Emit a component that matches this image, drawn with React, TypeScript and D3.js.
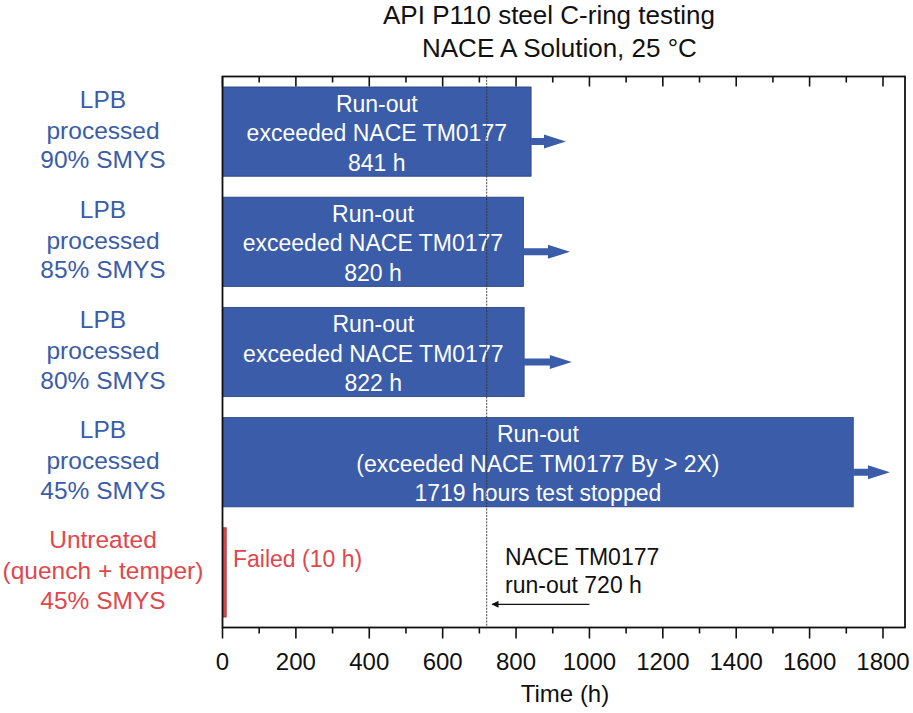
import React from 'react';
import * as d3 from 'd3';

// Rows, top to bottom
const rowLabels: string[][] = [
  ['LPB', 'processed', '90% SMYS'],
  ['LPB', 'processed', '85% SMYS'],
  ['LPB', 'processed', '80% SMYS'],
  ['LPB', 'processed', '45% SMYS'],
  ['Untreated', '(quench + temper)', '45% SMYS'],
];
const hours = [841, 820, 822, 1719, 10];
const barTexts: string[][] = [
  ['Run-out', 'exceeded NACE TM0177', '841 h'],
  ['Run-out', 'exceeded NACE TM0177', '820 h'],
  ['Run-out', 'exceeded NACE TM0177', '822 h'],
  ['Run-out', '(exceeded NACE TM0177 By > 2X)', '1719 hours test stopped'],
  [],
];
const failed = [false, false, false, false, true];
// where the run-out arrows end (h)
const arrowTips = [936, 947, 952, 1819, null];

const naceLimit = 720;
const naceNote = ['NACE TM0177', 'run-out 720 h'];
const naceArrow = [1000, 735];
const failedNote = 'Failed (10 h)';

const xMajor = [0, 200, 400, 600, 800, 1000, 1200, 1400, 1600, 1800];
const xMinor = [100, 300, 500, 700, 900, 1100, 1300, 1500, 1700];
const titleLines = ['API P110 steel C-ring testing', 'NACE A Solution, 25 °C'];

const W = 913;
const H = 713;
const left = 222.5, right = 905, top = 76.5, bottom = 627.5;
const BLUE = '#3b5ca9';
const RED = '#e0474c';
const FONT = '"Liberation Sans", Arial, Helvetica, sans-serif';

const App: React.FC = () => {
  const x = d3.scaleLinear().domain([0, 1860]).range([left, right]);
  const y = d3.scaleBand<number>()
    .domain(d3.range(hours.length))
    .range([top, bottom])
    .paddingInner(0.19)
    .paddingOuter(0.095);
  const bw = y.bandwidth();

  return (
    <svg width={W} height={H} style={{ position: 'absolute', left: 0, top: 0, background: '#fff' }}
      fontFamily={FONT}>
      <defs>
        <marker id="ah" viewBox="0 0 10 10" refX="9" refY="5" markerWidth="9" markerHeight="7"
          markerUnits="userSpaceOnUse" orient="auto">
          <path d="M0,0 L10,5 L0,10 Z" fill="#111" />
        </marker>
      </defs>

      {/* title */}
      <text x={383} y={24} fontSize={26} fill="#111">{titleLines[0]}</text>
      <text x={422} y={56.5} fontSize={26} fill="#111">{titleLines[1]}</text>

      {/* bars */}
      {hours.map((h, i) => {
        const y0 = y(i)!;
        const cy = y0 + bw / 2;
        const x1 = x(h);
        const color = failed[i] ? RED : BLUE;
        const tip = arrowTips[i];
        return (
          <g key={i}>
            <rect x={x(0)} y={y0} width={x1 - x(0)} height={bw} fill={color}
              stroke={failed[i] ? '#9a2a2e' : '#27407a'} strokeWidth={0.8} />
            {tip !== null && (() => {
              const ay = cy + 10;
              const xt = x(tip);
              const xh = xt - 22;
              return (
                <path fill={BLUE}
                  d={`M${x1},${ay - 3.5} L${xh},${ay - 3.5} L${xh},${ay - 7} L${xt},${ay} L${xh},${ay + 7} L${xh},${ay + 3.5} L${x1},${ay + 3.5} Z`} />
              );
            })()}
            {barTexts[i].map((t, j) => (
              <text key={j} x={(x(0) + x1) / 2} y={cy + [-20, 9.5, 39][j]} fontSize={23}
                fill="#fff" textAnchor="middle">{t}</text>
            ))}
            {rowLabels[i].map((t, j) => (
              <text key={j} x={103} y={cy + [-24, 7, 36.5][j]} fontSize={24.5}
                fill={color} textAnchor="middle">{t}</text>
            ))}
          </g>
        );
      })}

      {/* failed note */}
      <text x={233} y={566.5} fontSize={23} fill={RED}>{failedNote}</text>

      {/* NACE limit line */}
      <line x1={x(naceLimit)} x2={x(naceLimit)} y1={top} y2={bottom} stroke="#333"
        strokeWidth={0.9} strokeDasharray="2,1.2" />
      <text x={x(770)} y={565} fontSize={23} fill="#111">{naceNote[0]}</text>
      <text x={x(770)} y={592.5} fontSize={23} fill="#111">{naceNote[1]}</text>
      <line x1={x(naceArrow[0])} x2={x(naceArrow[1])} y1={604.3} y2={604.3} stroke="#111"
        strokeWidth={1.3} markerEnd="url(#ah)" />

      {/* frame */}
      <rect x={left} y={top} width={right - left} height={bottom - top} fill="none"
        stroke="#111" strokeWidth={1.8} />

      {/* top ticks (inward) */}
      {xMajor.map(v => (
        <line key={'tM' + v} x1={x(v)} x2={x(v)} y1={top} y2={top + 10} stroke="#111" strokeWidth={1.6} />
      ))}
      {xMinor.map(v => (
        <line key={'tm' + v} x1={x(v)} x2={x(v)} y1={top} y2={top + 6} stroke="#111" strokeWidth={1.6} />
      ))}

      {/* bottom axis */}
      {xMajor.map(v => (
        <g key={'bM' + v}>
          <line x1={x(v)} x2={x(v)} y1={bottom} y2={bottom + 11} stroke="#111" strokeWidth={1.6} />
          <text x={x(v)} y={669.5} fontSize={24} textAnchor="middle" fill="#111">{v}</text>
        </g>
      ))}
      {xMinor.map(v => (
        <line key={'bm' + v} x1={x(v)} x2={x(v)} y1={bottom} y2={bottom + 6} stroke="#111" strokeWidth={1.6} />
      ))}
      <text x={565} y={702} fontSize={24} textAnchor="middle" fill="#111">Time (h)</text>
    </svg>
  );
};

export default App;
